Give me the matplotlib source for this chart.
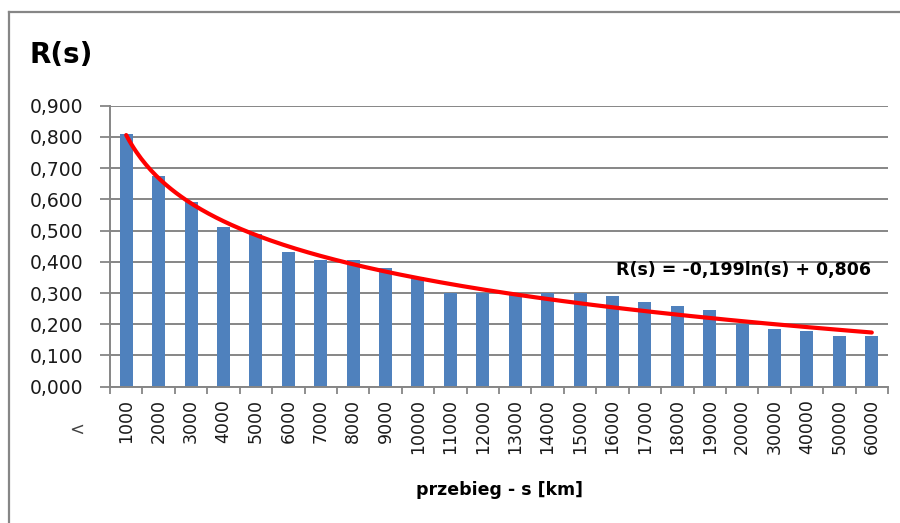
import numpy as np
import matplotlib
matplotlib.use("Agg")
import matplotlib.pyplot as plt
from matplotlib.lines import Line2D

categories = ["1000", "2000", "3000", "4000", "5000", "6000", "7000", "8000",
              "9000", "10000", "11000", "12000", "13000", "14000", "15000",
              "16000", "17000", "18000", "19000", "20000", "30000", "40000",
              "50000", "60000"]
values = [0.810, 0.675, 0.592, 0.512, 0.490, 0.432, 0.406, 0.405, 0.380,
          0.350, 0.300, 0.300, 0.300, 0.300, 0.300, 0.292, 0.270, 0.258,
          0.245, 0.200, 0.185, 0.178, 0.163, 0.162]
trend_a = -0.199
trend_b = 0.806
yticks = [0.0, 0.1, 0.2, 0.3, 0.4, 0.5, 0.6, 0.7, 0.8, 0.9]

plt.rcParams['font.family'] = ['DejaVu Sans']
W, H = 900, 523
fig = plt.figure(figsize=(W / 100, H / 100), dpi=100)
ax = fig.add_axes([110 / W, 1 - 386.7 / H, (888 - 110) / W, (386.7 - 105.7) / H])

grey = "#868686"
x = np.arange(len(categories))
ax.bar(x, values, width=0.4, color="#4F81BD", zorder=2)

xs = np.linspace(1, len(categories), 300)
ax.plot(xs - 1, trend_a * np.log(xs) + trend_b, color="#FF0000", lw=3.0,
        solid_capstyle="round", zorder=3)

ax.set_xlim(-0.5, len(categories) - 0.5)
ax.set_ylim(0, 0.9)
ax.set_yticks(yticks)
ax.set_yticklabels([f"{v:.3f}".replace(".", ",") for v in yticks], fontsize=13.5,
                   color="#1a1a1a")
ax.yaxis.grid(True, color=grey, lw=1.4, zorder=0)
ax.set_axisbelow(True)

ax.set_xticks(x)
ax.set_xticklabels(categories, rotation=90, fontsize=12.5, color="#1a1a1a")
ax.set_xticks(np.arange(-0.5, len(categories), 1.0), minor=True)
ax.tick_params(axis="x", which="major", length=0, pad=9)
ax.tick_params(axis="x", which="minor", length=5, color=grey, width=1.3)
ax.tick_params(axis="y", length=7, color=grey, width=1.3, pad=12)

for s in ["top", "right"]:
    ax.spines[s].set_visible(False)
for s in ["left", "bottom"]:
    ax.spines[s].set_color(grey)
    ax.spines[s].set_linewidth(1.4)

fig.text(29 / W, 1 - 55 / H, "R(s)", fontsize=20, fontweight="bold",
         ha="left", va="center")
fig.text(743 / W, 1 - 270 / H, "R(s) = -0,199ln(s) + 0,806", fontsize=12.5,
         fontweight="bold", ha="center", va="center")
fig.text(500 / W, 1 - 490 / H, "przebieg - s [km]", fontsize=12.5,
         fontweight="bold", ha="center", va="center")
fig.text(77 / W, 1 - 430 / H, "<", fontsize=13, color="#404040",
         ha="center", va="center")

fig.add_artist(Line2D([8.5 / W, 1.0], [1 - 12 / H, 1 - 12 / H],
                      transform=fig.transFigure, color=grey, lw=1.6))
fig.add_artist(Line2D([8.5 / W, 8.5 / W], [0.0, 1 - 12 / H],
                      transform=fig.transFigure, color=grey, lw=1.6))

fig.savefig("out.png", dpi=100)
